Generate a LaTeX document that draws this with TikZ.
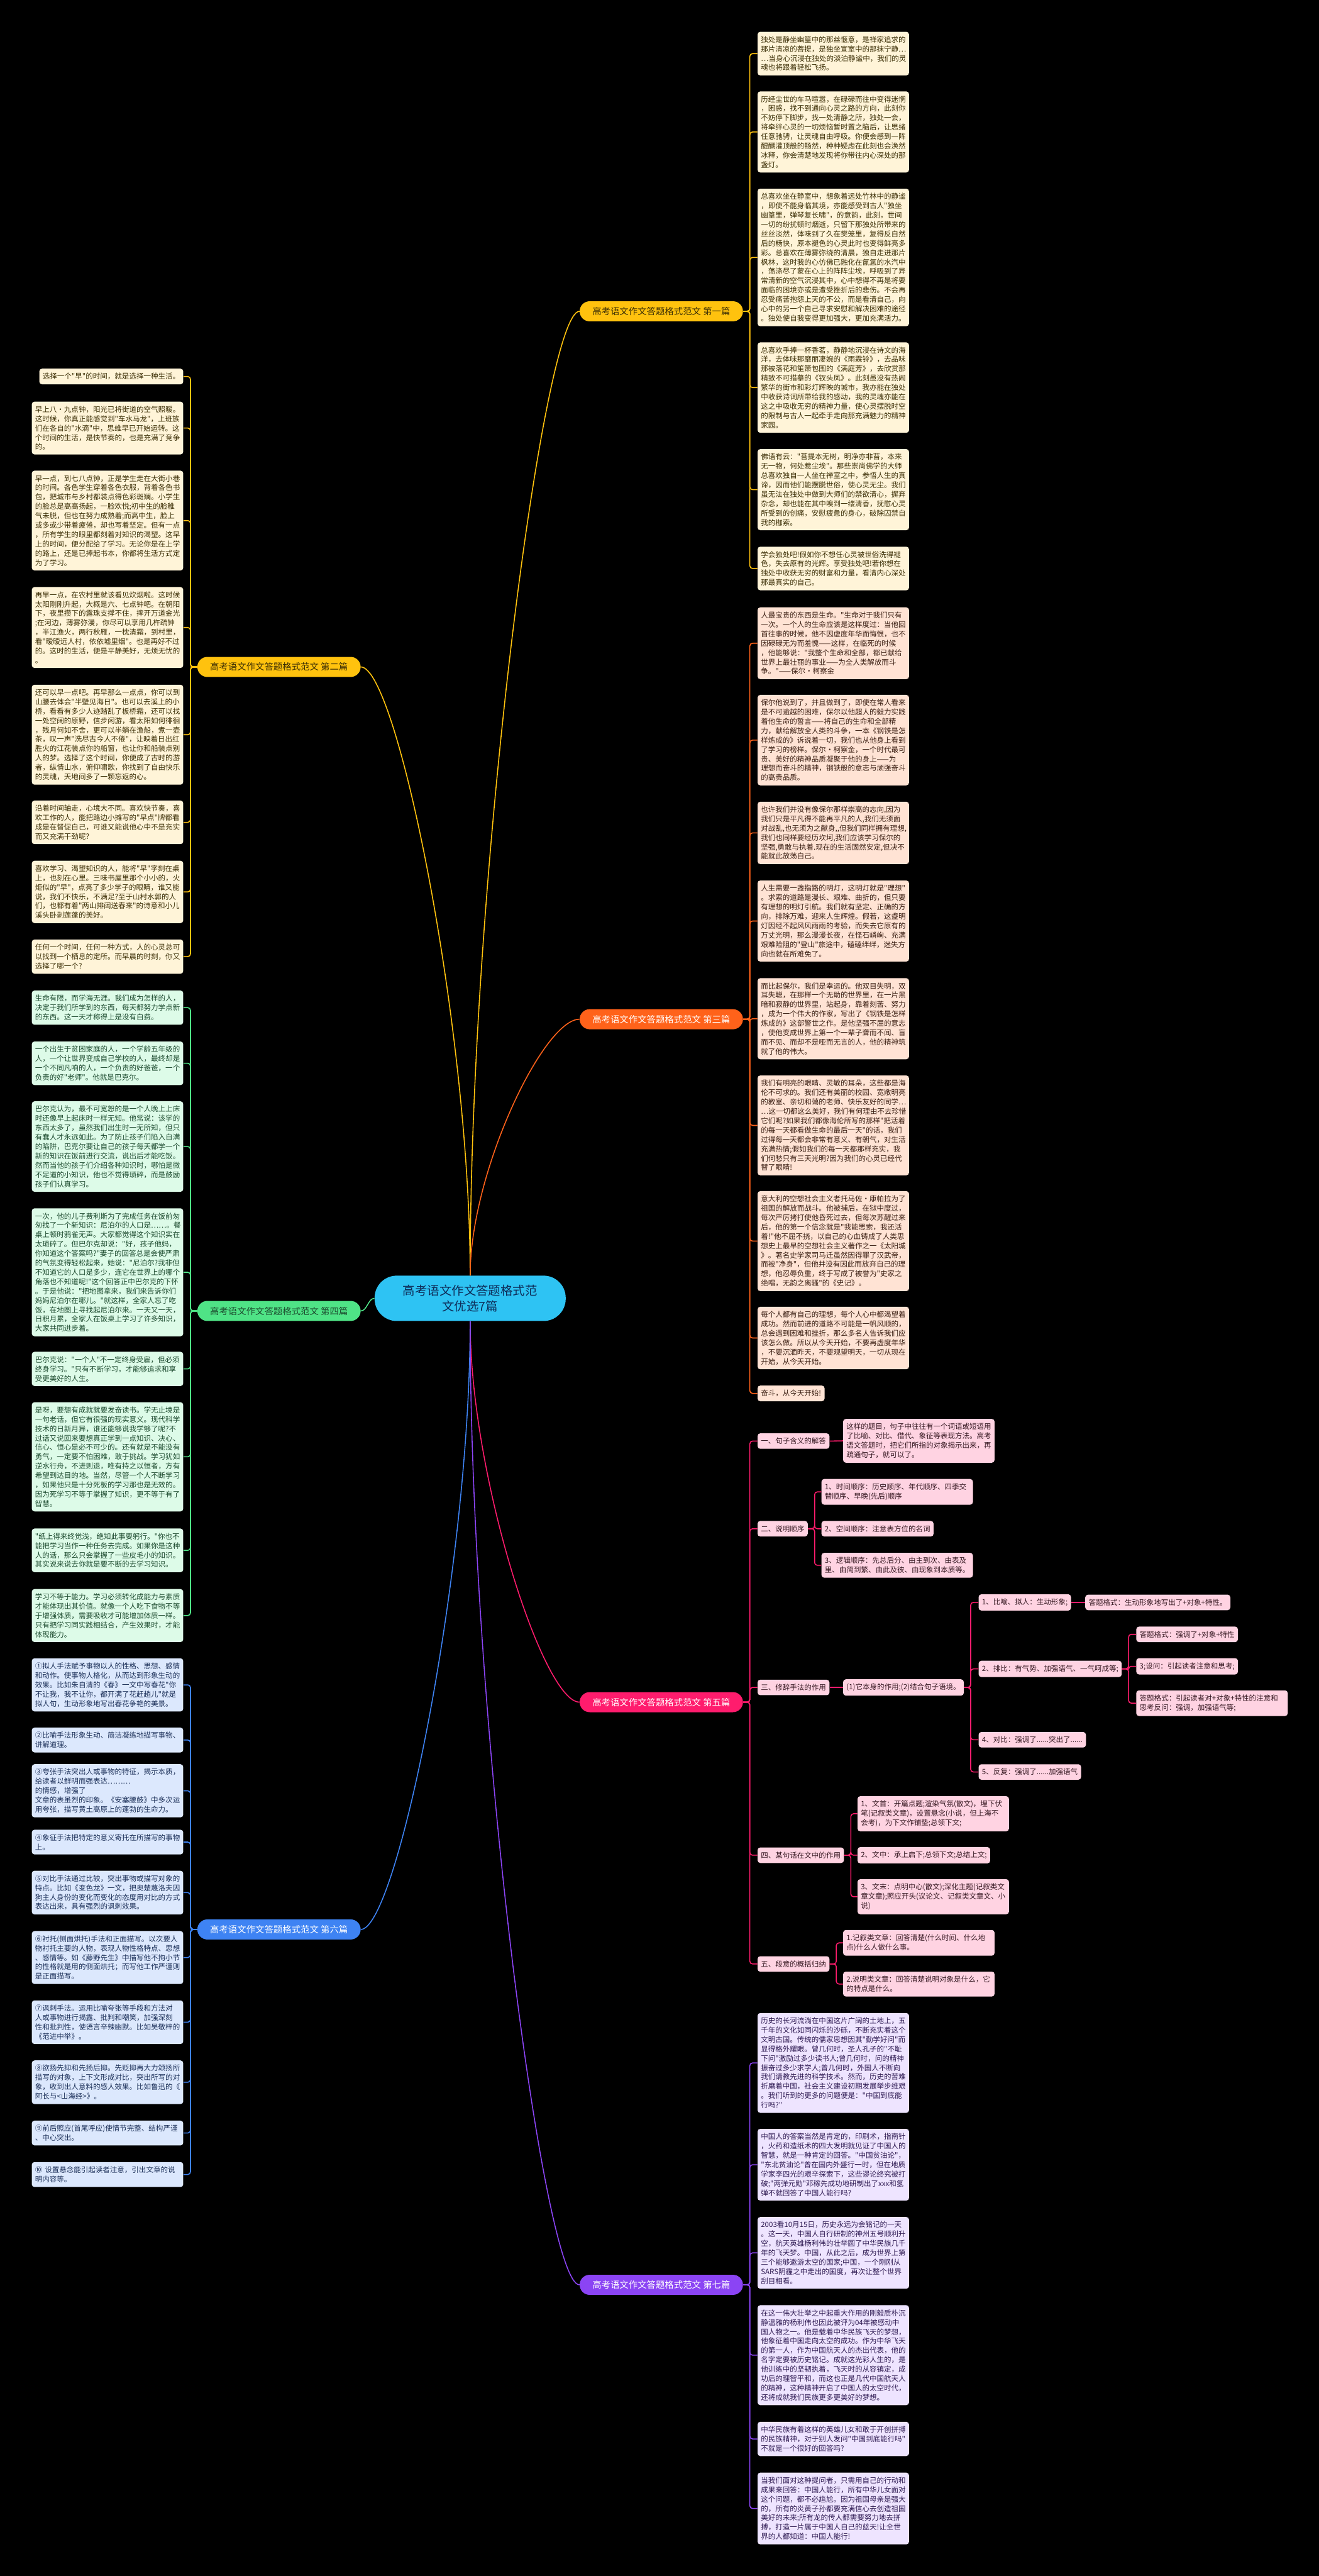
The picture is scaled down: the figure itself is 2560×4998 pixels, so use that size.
\documentclass[tikz,border=0pt]{standalone}
\usepackage{fontspec}
\newfontfamily\zhfont{Noto Sans CJK SC}

% --- Couleurs ---
\definecolor{ylwline}{HTML}{FFC20E}
\definecolor{ylwbox}{HTML}{FFF4D8}
\definecolor{ylwtext}{HTML}{3B2E05}
\definecolor{orgline}{HTML}{FF621A}
\definecolor{orgbox}{HTML}{FFE3D4}
\definecolor{orgtext}{HTML}{3A1E12}
\definecolor{grnline}{HTML}{4FE386}
\definecolor{grnbox}{HTML}{DDFBE8}
\definecolor{grntext}{HTML}{1C4A2E}
\definecolor{pnkline}{HTML}{FF1C6D}
\definecolor{pnkbox}{HTML}{FFD3E2}
\definecolor{pnktext}{HTML}{33161F}
\definecolor{bluline}{HTML}{3E83F3}
\definecolor{blubox}{HTML}{DCE8FD}
\definecolor{blutext}{HTML}{1A2E57}
\definecolor{pplline}{HTML}{8B44F4}
\definecolor{pplbox}{HTML}{EEE4FF}
\definecolor{ppltext}{HTML}{2E1A52}
\definecolor{rootfill}{HTML}{2EC3F3}
\definecolor{roottext}{HTML}{0E2C58}

\tikzset{
  leaf/.style={font=\zhfont\fontsize{8}{10.35}\selectfont, rounded corners=3pt,
    inner xsep=0.13cm, inner ysep=0.17cm, align=left},
  para/.style={leaf, text width=5.62cm},
  sect/.style={font=\zhfont\fontsize{10}{12}\selectfont, rounded corners=0.39cm,
    minimum width=6.34cm, minimum height=0.78cm, inner sep=0pt},
  twig/.style={line width=1.1pt, rounded corners=3pt},
  yel/.style={fill=ylwbox, text=ylwtext},
  org/.style={fill=orgbox, text=orgtext},
  grn/.style={fill=grnbox, text=grntext},
  pnk/.style={fill=pnkbox, text=pnktext},
  blu/.style={fill=blubox, text=blutext},
  ppl/.style={fill=pplbox, text=ppltext},
  yelline/.style={twig, draw=ylwline},
  orgline/.style={twig, draw=orgline},
  grnline/.style={twig, draw=grnline},
  pnkline/.style={twig, draw=pnkline},
  bluline/.style={twig, draw=bluline},
  pplline/.style={twig, draw=pplline},
}

\begin{document}
\begin{tikzpicture}[x=0.02cm, y=-0.02cm]

% --- Dimensions ---
\def\rx{1470}
\def\lx{356}

% --- Fond ---
\fill[black] (0,0) rectangle (2560,4998);
\useasboundingbox (0,0) rectangle (2560,4998);

% --- Racine ---
\node[fill=rootfill, text=roottext, font=\zhfont\fontsize{13.5}{17.6}\selectfont,
  rounded corners=0.86cm, minimum width=7.42cm, minimum height=1.76cm, align=center]
  (root) at (912.5,2519) {高考语文作文答题格式范\\文优选7篇};

% --- Branches ---
\node[sect, fill=ylwline, text=ylwtext] (s1) at (1283.5,604) {高考语文作文答题格式范文 第一篇};
\node[sect, fill=ylwline, text=ylwtext] (s2) at (541.5,1294) {高考语文作文答题格式范文 第二篇};
\node[sect, fill=orgline, text=white] (s3) at (1283.5,1977.5) {高考语文作文答题格式范文 第三篇};
\node[sect, fill=grnline, text=grntext] (s4) at (541.5,2543.5) {高考语文作文答题格式范文 第四篇};
\node[sect, fill=pnkline, text=white] (s5) at (1283.5,3302.5) {高考语文作文答题格式范文 第五篇};
\node[sect, fill=bluline, text=white] (s6) at (541.5,3743.5) {高考语文作文答题格式范文 第六篇};
\node[sect, fill=pplline, text=white] (s7) at (1283.5,4433) {高考语文作文答题格式范文 第七篇};

% --- Premier ---
\node[para, yel, anchor=west] (s1a) at (\rx,104) {独处是静坐幽篁中的那丝惬意，是禅家追求的\\那片清凉的菩提，是独坐宣室中的那抹宁静…\\…当身心沉浸在独处的淡泊静谧中，我们的灵\\魂也将跟着轻松飞扬。};
\node[para, yel, anchor=west] (s1b) at (\rx,256) {历经尘世的车马喧嚣，在碌碌而往中变得迷惘\\，困惑，找不到通向心灵之路的方向，此刻你\\不妨停下脚步，找一处清静之所，独处一会，\\将牵绊心灵的一切烦恼暂时置之脑后，让思绪\\任意驰骋，让灵魂自由呼吸。你便会感到一阵\\醍醐灌顶般的畅然，种种疑虑在此刻也会涣然\\冰释，你会清楚地发现将你带往内心深处的那\\盏灯。};
\node[para, yel, anchor=west] (s1c) at (\rx,499.5) {总喜欢坐在静室中，想象着远处竹林中的静谧\\，即使不能身临其境，亦能感受到古人"独坐\\幽篁里，弹琴复长啸"，的意韵，此刻，世间\\一切的纷扰顿时烟逝，只留下那独处所带来的\\丝丝淡然，体味到了久在樊笼里，复得反自然\\后的畅快，原本褪色的心灵此时也变得鲜亮多\\彩。总喜欢在薄雾弥绕的清晨，独自走进那片\\枫林，这时我的心仿佛已融化在氤氲的水汽中\\，荡涤尽了蒙在心上的阵阵尘埃，呼吸到了异\\常清新的空气沉浸其中，心中想得不再是将要\\面临的困境亦或是遭受挫折后的悲伤。不会再\\忍受痛苦抱怨上天的不公，而是看清自己，向\\心中的另一个自己寻求安慰和解决困难的途径\\。独处使自我变得更加强大，更加充满活力。};
\node[para, yel, anchor=west] (s1d) at (\rx,752) {总喜欢手捧一杯香茗，静静地沉浸在诗文的海\\洋，去体味那靡丽凄婉的《雨霖铃》，去品味\\那被落花和笙箫包围的《满庭芳》，去欣赏那\\精致不可措摹的《钗头凤》。此刻虽没有热闹\\繁华的街市和彩灯辉映的城市，我亦能在独处\\中收获诗词所带给我的感动，我的灵魂亦能在\\这之中吸收无穷的精神力量，使心灵摆脱时空\\的限制与古人一起牵手走向那充满魅力的精神\\家园。};
\node[para, yel, anchor=west] (s1e) at (\rx,950) {佛语有云："菩提本无树，明净亦非苔，本来\\无一物，何处惹尘埃"。那些崇尚佛学的大师\\总喜欢独自一人坐在禅室之中，参悟人生的真\\谛，因而他们能摆脱世俗，使心灵无尘。我们\\虽无法在独处中做到大师们的禁欲清心，摒弃\\杂念，却也能在其中嗅到一缕清香，抚慰心灵\\所受到的创痛，安慰疲惫的身心，破除囚禁自\\我的枷索。};
\node[para, yel, anchor=west] (s1f) at (\rx,1103) {学会独处吧!假如你不想任心灵被世俗洗得褪\\色，失去原有的光辉。享受独处吧!若你想在\\独处中收获无穷的财富和力量，看清内心深处\\那最真实的自己。};

% --- Deuxième ---
\node[leaf, yel, anchor=east] (s2a) at (\lx,730.5) {选择一个"早"的时间，就是选择一种生活。};
\node[para, yel, anchor=east] (s2b) at (\lx,830.5) {早上八·九点钟，阳光已将街道的空气照暖。\\这时候，你真正能感觉到"车水马龙"，上班族\\们在各自的"水滴"中，思维早已开始运转。这\\个时间的生活，是快节奏的，也是充满了竞争\\的。};
\node[para, yel, anchor=east] (s2c) at (\lx,1010) {早一点，到七八点钟，正是学生走在大街小巷\\的时间。各色学生穿着各色衣服，背着各色书\\包，把城市与乡村都装点得色彩斑斓。小学生\\的脸总是高高扬起，一脸欢悦;初中生的脸稚\\气未脱，但也在努力成熟着;而高中生，脸上\\或多或少带着疲倦，却也写着坚定。但有一点\\，所有学生的眼里都刻着对知识的渴望。这早\\上的时间，便分配给了学习。无论你是在上学\\的路上，还是已捧起书本，你都将生活方式定\\为了学习。};
\node[para, yel, anchor=east] (s2d) at (\lx,1217.5) {再早一点，在农村里就该看见炊烟啦。这时候\\太阳刚刚升起，大概是六、七点钟吧。在朝阳\\下，夜里攒下的露珠支撑不住，摔开万道金光\\;在河边，薄雾弥漫，你尽可以享用几杵疏钟\\，半江渔火，两行秋雁，一枕清霜，到村里，\\看"暧暧远人村，依依墟里烟"。也是再好不过\\的。这时的生活，便是平静美好，无烦无忧的\\。};
\node[para, yel, anchor=east] (s2e) at (\lx,1425.5) {还可以早一点吧。再早那么一点点，你可以到\\山腰去体会"半壁见海日"。也可以去溪上的小\\桥，看看有多少人迹踏乱了板桥霜，还可以找\\一处空阔的原野，信步闲游，看太阳如何徘徊\\，残月何如不舍，更可以半躺在渔船，煮一壶\\茶，叹一声"洗尽古今人不倦"，让映着日出红\\胜火的江花装点你的船窗，也让你和船装点别\\人的梦。选择了这个时间，你便成了古时的游\\者，纵情山水，俯仰啸歌，你找到了自由快乐\\的灵魂，天地间多了一颗忘返的心。};
\node[para, yel, anchor=east] (s2f) at (\lx,1595.5) {沿着时间轴走，心境大不同。喜欢快节奏，喜\\欢工作的人，能把路边小摊写的"早点"牌都看\\成是在督促自己，可谁又能说他心中不是充实\\而又充满干劲呢?};
\node[para, yel, anchor=east] (s2g) at (\lx,1730.5) {喜欢学习、渴望知识的人，能将"早"字刻在桌\\上，也刻在心里。三味书屋里那个小小的，火\\炬似的"早"，点亮了多少学子的眼睛，谁又能\\说，我们不快乐，不满足?至于山村水郭的人\\们，也都有着"两山排闼送春来"的诗意和小儿\\溪头卧剥莲蓬的美好。};
\node[para, yel, anchor=east] (s2h) at (\lx,1856) {任何一个时间，任何一种方式，人的心灵总可\\以找到一个栖息的定所。而早晨的时刻，你又\\选择了哪一个?};

% --- Troisième ---
\node[para, org, anchor=west] (s3a) at (\rx,1248) {人最宝贵的东西是生命。"生命对于我们只有\\一次。一个人的生命应该是这样度过：当他回\\首往事的时候，他不因虚度年华而悔恨，也不\\因碌碌无为而羞愧——这样，在临死的时候\\，他能够说："我整个生命和全部，都已献给\\世界上最壮丽的事业——为全人类解放而斗\\争。"——保尔·柯察金};
\node[para, org, anchor=west] (s3b) at (\rx,1436) {保尔他说到了，并且做到了，即使在常人看来\\是不可逾越的困难，保尔以他超人的毅力实践\\着他生命的誓言——将自己的生命和全部精\\力，献给解放全人类的斗争，一本《钢铁是怎\\样炼成的》诉说着一切，我们也从他身上看到\\了学习的榜样。保尔·柯察金，一个时代最可\\贵、美好的精神品质凝聚于他的身上——为\\理想而奋斗的精神，钢铁般的意志与顽强奋斗\\的高贵品质。};
\node[para, org, anchor=west] (s3c) at (\rx,1616) {也许我们并没有像保尔那样崇高的志向,因为\\我们只是平凡得不能再平凡的人,我们无须面\\对战乱,也无须为之献身,,但我们同样拥有理想,\\我们也同样要经历坎坷,我们应该学习保尔的\\坚强,勇敢与执着.现在的生活固然安定,但决不\\能就此放荡自己。};
\node[para, org, anchor=west] (s3d) at (\rx,1787) {人生需要一盏指路的明灯，这明灯就是"理想"\\。求索的道路是漫长、艰难、曲折的，但只要\\有理想的明灯引航。我们就有坚定、正确的方\\向，排除万难，迎来人生辉煌。假若，这盏明\\灯因经不起风风雨雨的考验，而失去它原有的\\万丈光明，那么漫漫长夜，在怪石嶙峋、充满\\艰难险阻的"登山"旅途中，磕磕绊绊，迷失方\\向也就在所难免了。};
\node[para, org, anchor=west] (s3e) at (\rx,1976.5) {而比起保尔，我们是幸运的。他双目失明，双\\耳失聪，在那样一个无助的世界里，在一片黑\\暗和寂静的世界里，站起身，靠着刻苦、努力\\，成为一个伟大的作家，写出了《钢铁是怎样\\炼成的》这部警世之作。是他坚强不屈的意志\\，使他变成世界上第一个一辈子聋而不闻、盲\\而不见、而却不是哑而无言的人，他的精神筑\\就了他的伟大。};
\node[para, org, anchor=west] (s3f) at (\rx,2183.5) {我们有明亮的眼睛、灵敏的耳朵，这些都是海\\伦不可求的。我们还有美丽的校园、宽敞明亮\\的教室、亲切和蔼的老师、快乐友好的同学…\\…这一切都这么美好，我们有何理由不去珍惜\\它们呢?如果我们都像海伦所写的那样"把活着\\的每一天都看做生命的最后一天"的话，我们\\过得每一天都会非常有意义、有朝气，对生活\\充满热情;假如我们的每一天都那样充实，我\\们何愁只有三天光明?因为我们的心灵已经代\\替了眼睛!};
\node[para, org, anchor=west] (s3g) at (\rx,2408) {意大利的空想社会主义者托马佐·康帕拉为了\\祖国的解放而战斗。他被捕后，在狱中度过，\\每次严厉拷打使他昏死过去，但每次苏醒过来\\后，他的第一个信念就是"我能思索，我还活\\着!"他不屈不挠，以自己的心血铸成了人类思\\想史上最早的空想社会主义著作之一《太阳城\\》。著名史学家司马迁虽然因得罪了汉武帝，\\而被"净身"，但他并没有因此而放弃自己的理\\想，他忍辱负重，终于写成了被誉为"史家之\\绝唱，无韵之离骚"的《史记》。};
\node[para, org, anchor=west] (s3h) at (\rx,2596) {每个人都有自己的理想，每个人心中都渴望着\\成功。然而前进的道路不可能是一帆风顺的，\\总会遇到困难和挫折，那么多名人告诉我们应\\该怎么做。所以从今天开始，不要再虚度年华\\，不要沉湎昨天，不要观望明天，一切从现在\\开始，从今天开始。};
\node[leaf, org, anchor=west] (s3i) at (\rx,2703.5) {奋斗，从今天开始!};

% --- Quatrième ---
\node[para, grn, anchor=east] (s4a) at (\lx,1955) {生命有限，而学海无涯。我们成为怎样的人，\\决定于我们所学到的东西，每天都努力学点新\\的东西。这一天才称得上是没有白费。};
\node[para, grn, anchor=east] (s4b) at (\lx,2063) {一个出生于贫困家庭的人，一个学龄五年级的\\人，一个让世界变成自己学校的人，最终却是\\一个不同凡响的人，一个负责的好爸爸，一个\\负责的好"老师"。他就是巴克尔。};
\node[para, grn, anchor=east] (s4c) at (\lx,2224.5) {巴尔克认为，最不可宽恕的是一个人晚上上床\\时还像早上起床时一样无知。他常说：该学的\\东西太多了，虽然我们出生时一无所知，但只\\有蠢人才永远如此。为了防止孩子们陷入自满\\的陷阱，巴克尔要让自己的孩子每天都学一个\\新的知识在饭前进行交流，说出后才能吃饭。\\然而当他的孩子们介绍各种知识时，哪怕是微\\不足道的小知识，他也不觉得琐碎，而是鼓励\\孩子们认真学习。};
\node[para, grn, anchor=east] (s4d) at (\lx,2468.5) {一次，他的儿子费利斯为了完成任务在饭前匆\\匆找了一个新知识：尼泊尔的人口是……。餐\\桌上顿时鸦雀无声。大家都觉得这个知识实在\\太琐碎了。但巴尔克却说："好，孩子他妈，\\你知道这个答案吗?"妻子的回答总是会使严肃\\的气氛变得轻松起来，她说："尼泊尔?我非但\\不知道它的人口是多少，连它在世界上的哪个\\角落也不知道呢!"这个回答正中巴尔克的下怀\\。于是他说："把地图拿来，我们来告诉你们\\妈妈尼泊尔在哪儿。"就这样，全家人忘了吃\\饭，在地图上寻找起尼泊尔来。一天又一天，\\日积月累，全家人在饭桌上学习了许多知识，\\大家共同进步着。};
\node[para, grn, anchor=east] (s4e) at (\lx,2656) {巴尔克说："一个人"不一定终身受雇，但必须\\终身学习。"只有不断学习，才能够追求和享\\受更美好的人生。};
\node[para, grn, anchor=east] (s4f) at (\lx,2826.5) {是呀，要想有成就就要发奋读书。学无止境是\\一句老话，但它有很强的现实意义。现代科学\\技术的日新月异，谁还能够说我学够了呢?不\\过话又说回来要想真正学到一点知识、决心、\\信心、恒心是必不可少的。还有就是不能没有\\勇气，一定要不怕困难，敢于挑战。学习犹如\\逆水行舟，不进则退，唯有持之以恒者，方有\\希望到达目的地。当然，尽管一个人不断学习\\，如果他只是十分死板的学习那也是无效的。\\因为死学习不等于掌握了知识，更不等于有了\\智慧。};
\node[para, grn, anchor=east] (s4g) at (\lx,3008) {"纸上得来终觉浅，绝知此事要躬行。"你也不\\能把学习当作一种任务去完成。如果你是这种\\人的话，那么只会掌握了一些皮毛小的知识。\\其实说来说去你就是要不断的去学习知识。};
\node[para, grn, anchor=east] (s4h) at (\lx,3134.5) {学习不等于能力。学习必须转化成能力与素质\\才能体现出其价值。就像一个人吃下食物不等\\于增强体质，需要吸收才可能增加体质一样。\\只有把学习同实践相结合，产生效果时，才能\\体现能力。};

% --- Cinquième ---
\node[leaf, pnk, anchor=west] (p1) at (\rx,2796) {一、句子含义的解答};
\node[para, pnk, anchor=west] (p1a) at (1636,2795.5) {这样的题目，句子中往往有一个词语或短语用\\了比喻、对比、借代、象征等表现方法。高考\\语文答题时，把它们所指的对象揭示出来，再\\疏通句子，就可以了。};
\node[leaf, pnk, anchor=west] (p2) at (\rx,2966) {二、说明顺序};
\node[para, pnk, anchor=west] (p2a) at (1594,2894.5) {1、时间顺序：历史顺序、年代顺序、四季交\\替顺序、早晚(先后)顺序};
\node[leaf, pnk, anchor=west] (p2b) at (1594,2966) {2、空间顺序：注意表方位的名词};
\node[para, pnk, anchor=west] (p2c) at (1594,3037) {3、逻辑顺序：先总后分、由主到次、由表及\\里、由简到繁、由此及彼、由现象到本质等。};
\node[leaf, pnk, anchor=west] (p3) at (\rx,3274) {三、修辞手法的作用};
\node[leaf, pnk, anchor=west] (p3a) at (1636,3274) {(1)它本身的作用;(2)结合句子语境。};
\node[leaf, pnk, anchor=west] (q1) at (1899,3109) {1、比喻、拟人：生动形象;};
\node[leaf, pnk, anchor=west] (q1a) at (2106,3109) {答题格式：生动形象地写出了+对象+特性。};
\node[leaf, pnk, anchor=west] (q2) at (1899,3238) {2、排比：有气势、加强语气、一气呵成等;};
\node[leaf, pnk, anchor=west] (q2a) at (2205,3171) {答题格式：强调了+对象+特性};
\node[leaf, pnk, anchor=west] (q2b) at (2205,3233) {3;设问：引起读者注意和思考;};
\node[para, pnk, anchor=west] (q2c) at (2205,3304.5) {答题格式：引起读者对+对象+特性的注意和\\思考反问：强调，加强语气等;};
\node[leaf, pnk, anchor=west] (q3) at (1899,3375.5) {4、对比：强调了......突出了......};
\node[leaf, pnk, anchor=west] (q4) at (1899,3438) {5、反复：强调了......加强语气};
\node[leaf, pnk, anchor=west] (p4) at (\rx,3599.5) {四、某句话在文中的作用};
\node[para, pnk, anchor=west] (p4a) at (1664,3519) {1、文首：开篇点题;渲染气氛(散文)，埋下伏\\笔(记叙类文章)，设置悬念(小说，但上海不\\会考)，为下文作铺垫;总领下文;};
\node[leaf, pnk, anchor=west] (p4b) at (1664,3599.5) {2、文中：承上启下;总领下文;总结上文;};
\node[para, pnk, anchor=west] (p4c) at (1664,3680) {3、文末：点明中心(散文);深化主题(记叙类文\\章文章);照应开头(议论文、记叙类文章文、小\\说)};
\node[leaf, pnk, anchor=west] (p5) at (\rx,3810.5) {五、段意的概括归纳};
\node[para, pnk, anchor=west] (p5a) at (1636,3769.5) {1.记叙类文章：回答清楚(什么时间、什么地\\点)什么人做什么事。};
\node[para, pnk, anchor=west] (p5b) at (1636,3849.5) {2.说明类文章：回答清楚说明对象是什么，它\\的特点是什么。};

% --- Sixième ---
\node[para, blu, anchor=east] (s6a) at (\lx,3269) {①拟人手法赋予事物以人的性格、思想、感情\\和动作。使事物人格化，从而达到形象生动的\\效果。比如朱自清的《春》一文中写春花"你\\不让我，我不让你，都开满了花赶趟儿"就是\\拟人句，生动形象地写出春花争艳的美景。};
\node[para, blu, anchor=east] (s6b) at (\lx,3376) {②比喻手法形象生动、简洁凝练地描写事物、\\讲解道理。};
\node[para, blu, anchor=east] (s6c) at (\lx,3474.5) {③夸张手法突出人或事物的特征，揭示本质，\\给读者以鲜明而强表达……… 的情感，增强了\\文章的表虽烈的印象。《安塞腰鼓》中多次运\\用夸张，描写黄土高原上的蓬勃的生命力。};
\node[para, blu, anchor=east] (s6d) at (\lx,3574) {④象征手法把特定的意义寄托在所描写的事物\\上。};
\node[para, blu, anchor=east] (s6e) at (\lx,3672) {⑤对比手法通过比较，突出事物或描写对象的\\特点。比如《变色龙》一文，把奥楚蔑洛夫因\\狗主人身份的变化而变化的态度用对比的方式\\表达出来，具有强烈的讽刺效果。};
\node[para, blu, anchor=east] (s6f) at (\lx,3798) {⑥衬托(侧面烘托)手法和正面描写。以次要人\\物衬托主要的人物，表现人物性格特点、思想\\、感情等。如《藤野先生》中描写他不拘小节\\的性格就是用的侧面烘托；而写他工作严谨则\\是正面描写。};
\node[para, blu, anchor=east] (s6g) at (\lx,3923.5) {⑦讽刺手法。运用比喻夸张等手段和方法对\\人或事物进行揭露、批判和嘲笑，加强深刻\\性和批判性，使语言辛辣幽默。比如吴敬梓的\\《范进中举》。};
\node[para, blu, anchor=east] (s6h) at (\lx,4040) {⑧欲扬先抑和先扬后抑。先贬抑再大力颂扬所\\描写的对象，上下文形成对比，突出所写的对\\象，收到出人意料的感人效果。比如鲁迅的《\\阿长与<山海经>》。};
\node[para, blu, anchor=east] (s6i) at (\lx,4138.5) {⑨前后照应(首尾呼应)使情节完整、结构严谨\\、中心突出。};
\node[para, blu, anchor=east] (s6j) at (\lx,4219) {⑩ 设置悬念能引起读者注意，引出文章的说\\明内容等。};

% --- Septième ---
\node[para, ppl, anchor=west] (s7a) at (\rx,4002.5) {历史的长河流淌在中国这片广阔的土地上，五\\千年的文化如同闪烁的沙砾，不断充实着这个\\文明古国。传统的儒家思想因其"勤学好问"而\\显得格外耀眼。曾几何时，圣人孔子的"不耻\\下问"激励过多少读书人;曾几何时，问的精神\\振奋过多少求学人;曾几何时，外国人不断向\\我们请教先进的科学技术。然而，历史的苦难\\折磨着中国，社会主义建设初期发展举步维艰\\。我们听到的更多的问题便是："中国到底能\\行吗?"};
\node[para, ppl, anchor=west] (s7b) at (\rx,4200) {中国人的答案当然是肯定的，印刷术，指南针\\，火药和造纸术的四大发明就见证了中国人的\\智慧，就是一种肯定的回答。"中国贫油论"，\\"东北贫油论"曾在国内外盛行一时，但在地质\\学家李四光的艰辛探索下，这些谬论终究被打\\破;"两弹元勋"邓稼先成功地研制出了xxx和氢\\弹不就回答了中国人能行吗?};
\node[para, ppl, anchor=west] (s7c) at (\rx,4371) {2003看10月15日，历史永远为会铭记的一天\\。这一天，中国人自行研制的神州五号顺利升\\空，航天英雄杨利伟的壮举圆了中华民族几千\\年的飞天梦。中国，从此之后，成为世界上第\\三个能够遨游太空的国家;中国，一个刚刚从\\SARS阴霾之中走出的国度，再次让整个世界\\刮目相看。};
\node[para, ppl, anchor=west] (s7d) at (\rx,4569.5) {在这一伟大壮举之中起重大作用的刚毅质朴沉\\静温雅的杨利伟也因此被评为04年被感动中\\国人物之一。他是载着中华民族飞天的梦想，\\他象征着中国走向太空的成功。作为中华飞天\\的第一人，作为中国航天人的杰出代表，他的\\名字定要被历史铭记。成就这光彩人生的，是\\他训练中的坚韧执着，飞天时的从容镇定，成\\功后的理智平和，而这也正是几代中国航天人\\的精神，这种精神开启了中国人的太空时代，\\还将成就我们民族更多更美好的梦想。};
\node[para, ppl, anchor=west] (s7e) at (\rx,4732) {中华民族有着这样的英雄儿女和敢于开创拼搏\\的民族精神，对于别人发问"中国到底能行吗"\\不就是一个很好的回答吗?};
\node[para, ppl, anchor=west] (s7f) at (\rx,4867) {当我们面对这种提问者，只需用自己的行动和\\成果来回答：中国人能行，所有中华儿女面对\\这个问题，都不必尴尬。因为祖国母亲是强大\\的，所有的炎黄子孙都要充满信心去创造祖国\\美好的未来;所有龙的传人都需要努力地去拼\\搏，打造一片属于中国人自己的蓝天!让全世\\界的人都知道：中国人能行!};

% --- Liens racine ---
\draw[yelline] (root.north) .. controls +(0,-770) and +(-70,0) .. (s1.west);
\draw[yelline] (root.north) .. controls +(0,-480) and +(70,0) .. (s2.east);
\draw[orgline] (root.north) .. controls +(0,-200) and +(-70,0) .. (s3.west);
\draw[grnline] (root.west) .. controls +(-12,0) and +(12,0) .. (s4.east);
\draw[pnkline] (root.south) .. controls +(0,300) and +(-70,0) .. (s5.west);
\draw[bluline] (root.south) .. controls +(0,480) and +(70,0) .. (s6.east);
\draw[pplline] (root.south) .. controls +(0,770) and +(-70,0) .. (s7.west);

% --- Liens feuilles ---
\foreach \n in {a,...,f} \draw[yelline] (s1.east) -- ++(13,0) |- (s1\n.west);
\foreach \n in {a,...,h} \draw[yelline] (s2.west) -- ++(-13,0) |- (s2\n.east);
\foreach \n in {a,...,i} \draw[orgline] (s3.east) -- ++(13,0) |- (s3\n.west);
\foreach \n in {a,...,h} \draw[grnline] (s4.west) -- ++(-13,0) |- (s4\n.east);
\foreach \n in {a,...,j} \draw[bluline] (s6.west) -- ++(-13,0) |- (s6\n.east);
\foreach \n in {a,...,f} \draw[pplline] (s7.east) -- ++(13,0) |- (s7\n.west);

% --- Liens du cinquième ---
\foreach \n in {1,...,5} \draw[pnkline] (s5.east) -- ++(13,0) |- (p\n.west);
\draw[pnkline] (p1.east) -- (p1a.west);
\foreach \n in {a,b,c} \draw[pnkline] (p2.east) -- ++(13,0) |- (p2\n.west);
\draw[pnkline] (p3.east) -- (p3a.west);
\foreach \n in {1,...,4} \draw[pnkline] (p3a.east) -- ++(13,0) |- (q\n.west);
\draw[pnkline] (q1.east) -- (q1a.west);
\foreach \n in {a,b,c} \draw[pnkline] (q2.east) -- ++(13,0) |- (q2\n.west);
\foreach \n in {a,b,c} \draw[pnkline] (p4.east) -- ++(13,0) |- (p4\n.west);
\foreach \n in {a,b} \draw[pnkline] (p5.east) -- ++(13,0) |- (p5\n.west);

\end{tikzpicture}
\end{document}
